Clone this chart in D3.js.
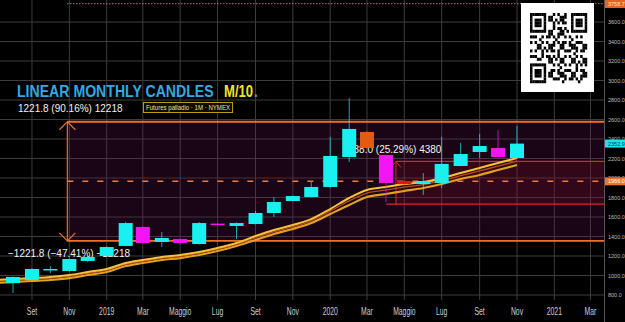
<!DOCTYPE html>
<head>
  <meta charset="utf-8">
  <script src="https://d3js.org/d3.v7.min.js"></script>
  <style>
    body { margin:0; background:#000; }
    svg { display:block; font-family:"Liberation Sans", Arial, sans-serif; }
  </style>
</head>
<body>
  <div id="chart"></div>
  <script>
    // monthly palladium candles, Aug 2018 .. Nov 2020
    const months = ['2018-08','2018-09','2018-10','2018-11','2018-12','2019-01','2019-02','2019-03','2019-04','2019-05',
      '2019-06','2019-07','2019-08','2019-09','2019-10','2019-11','2019-12','2020-01','2020-02','2020-03',
      '2020-04','2020-05','2020-06','2020-07','2020-08','2020-09','2020-10','2020-11'];
    const open  = [923, 954, 1060, 1046, 1149, 1200, 1303, 1497, 1344, 1374, 1323, 1532, 1508, 1528, 1641, 1764, 1805, 1908, 2215, 2472, 2236, 1969, 1938, 1949, 2123, 2267, 2308, 2205];
    const close = [985, 1067, 1067, 1169, 1190, 1292, 1538, 1333, 1385, 1333, 1538, 1524, 1538, 1641, 1754, 1815, 1908, 2226, 2503, 2308, 1949, 1938, 1969, 2144, 2246, 2328, 2215, 2352.9];
    const high  = [990, 1075, 1097, 1175, 1200, 1300, 1550, 1505, 1446, 1380, 1549, 1535, 1545, 1662, 1805, 1820, 1959, 2421, 2821, 2480, 2240, 1975, 2051, 2421, 2359, 2451, 2492, 2533];
    const low   = [820, 950, 1026, 1040, 1140, 1195, 1300, 1325, 1292, 1320, 1318, 1520, 1374, 1525, 1600, 1760, 1800, 1900, 2164, 2300, 1754, 1930, 1826, 1897, 2120, 2205, 2210, 2200];
    const flagged = { '2020-03': 'orange', '2020-05': 'red' };

    // moving averages, Jul 2018 .. Nov 2020
    const maMonths = ['2018-07'].concat(months);
    const maUpper = [954, 964, 974, 985, 1005, 1036, 1067, 1128, 1159, 1190, 1210, 1241, 1282, 1333, 1405, 1467, 1518, 1579, 1682, 1795, 1877, 1908, 1938, 1959, 2000, 2051, 2103, 2154, 2205];
    const maMid   = [940, 950, 960, 970, 990, 1021, 1052, 1113, 1144, 1175, 1195, 1226, 1267, 1318, 1386, 1447, 1498, 1560, 1660, 1765, 1845, 1876, 1906, 1932, 1972, 2024, 2072, 2122, 2172];
    const maLower = [923, 933, 944, 954, 974, 1005, 1036, 1097, 1128, 1159, 1179, 1210, 1251, 1303, 1364, 1426, 1477, 1538, 1631, 1723, 1805, 1836, 1867, 1897, 1938, 1990, 2031, 2082, 2133];

    const yTicks = d3.range(800, 3601, 200);
    const xTickDates = ['2018-09','2018-11','2019-01','2019-03','2019-05','2019-07','2019-09','2019-11',
      '2020-01','2020-03','2020-05','2020-07','2020-09','2020-11','2021-01','2021-03'];
    const xTickLabels = ['Set','Nov','2019','Mar','Maggio','Lug','Set','Nov','2020','Mar','Maggio','Lug','Set','Nov','2021','Mar'];

    // price range tools
    const rangeLow = 1355.1, rangeHigh = 2576.9, rangeMid = 1966.0;
    const rangeStart = '2018-11';
    const range2Low = 1732, range2High = 2170, range2Start = '2020-04';
    const topLevel = 3758.7;

    const W = 625, H = 322, plotRight = 604, plotBottom = 300;
    const parse = d3.timeParse('%Y-%m');

    const x = d3.scaleTime()
      .domain([parse('2018-08'), parse('2020-11')])
      .range([13, 517]);
    const y = d3.scaleLinear().domain([800, 3600]).range([295, 22]);

    const svg = d3.select('#chart').append('svg')
      .attr('width', W).attr('height', H);
    svg.append('rect').attr('width', W).attr('height', H).attr('fill', '#000');

    svg.append('clipPath').attr('id', 'plot')
      .append('rect').attr('width', plotRight).attr('height', plotBottom);

    const plot = svg.append('g').attr('clip-path', 'url(#plot)');

    // grid
    plot.append('g').selectAll('line').data(yTicks).join('line')
      .attr('x1', 0).attr('x2', plotRight)
      .attr('y1', d => y(d)).attr('y2', d => y(d))
      .attr('stroke', '#3d3d3d').attr('stroke-width', 1);
    plot.append('g').selectAll('line').data(xTickDates).join('line')
      .attr('x1', d => x(parse(d))).attr('x2', d => x(parse(d)))
      .attr('y1', 0).attr('y2', plotBottom)
      .attr('stroke', '#3d3d3d').attr('stroke-width', 1);

    // big range box
    const rx = x(parse(rangeStart)) - 2;
    plot.append('rect')
      .attr('x', rx).attr('y', y(rangeHigh))
      .attr('width', plotRight - rx).attr('height', y(rangeLow) - y(rangeHigh))
      .attr('fill', 'rgba(110,20,90,0.24)');
    // second range box
    const r2x = x(parse(range2Start)) + 10;
    plot.append('rect')
      .attr('x', r2x).attr('y', y(range2High))
      .attr('width', plotRight - r2x).attr('height', y(range2Low) - y(range2High))
      .attr('fill', 'rgba(140,20,40,0.22)');

    [rangeHigh, rangeLow].forEach(v => {
      plot.append('line').attr('x1', rx).attr('x2', plotRight)
        .attr('y1', y(v)).attr('y2', y(v))
        .attr('stroke', '#f0702a').attr('stroke-width', 1.8);
    });
    plot.append('line').attr('x1', rx).attr('x2', plotRight)
      .attr('y1', y(rangeMid)).attr('y2', y(rangeMid))
      .attr('stroke', '#f07838').attr('stroke-width', 1.6)
      .attr('stroke-dasharray', '6,9');
    // double arrow
    plot.append('line').attr('x1', rx).attr('x2', rx)
      .attr('y1', y(rangeHigh)).attr('y2', y(rangeLow))
      .attr('stroke', '#e8702a').attr('stroke-width', 1.2);
    plot.append('path')
      .attr('d', `M${rx - 8},${y(rangeHigh) + 8}L${rx},${y(rangeHigh)}L${rx + 8},${y(rangeHigh) + 8}`
        + `M${rx - 8},${y(rangeLow) - 8}L${rx},${y(rangeLow)}L${rx + 8},${y(rangeLow) - 8}`)
      .attr('fill', 'none').attr('stroke', '#e8702a').attr('stroke-width', 1.2);

    plot.append('line').attr('x1', r2x).attr('x2', plotRight)
      .attr('y1', y(range2High)).attr('y2', y(range2High))
      .attr('stroke', '#e0242a').attr('stroke-width', 1.2);
    plot.append('line').attr('x1', r2x - 10).attr('x2', plotRight)
      .attr('y1', y(range2Low)).attr('y2', y(range2Low))
      .attr('stroke', '#e0242a').attr('stroke-width', 1.2);
    plot.append('line').attr('x1', r2x).attr('x2', r2x)
      .attr('y1', y(range2High)).attr('y2', y(range2Low))
      .attr('stroke', '#e0242a').attr('stroke-width', 1);
    plot.append('path')
      .attr('d', `M${r2x - 5},${y(range2High) + 6}L${r2x},${y(range2High)}L${r2x + 5},${y(range2High) + 6}`)
      .attr('fill', 'none').attr('stroke', '#c83030').attr('stroke-width', 1);

    // top dotted level
    plot.append('line').attr('x1', rx).attr('x2', plotRight)
      .attr('y1', y(topLevel) - 3).attr('y2', y(topLevel) - 3)
      .attr('stroke', '#d89080').attr('stroke-width', 1.3)
      .attr('stroke-dasharray', '1,2');

    // range labels (drawn under the candles)
    const lbl = (tx, ty, s) => plot.append('text').attr('x', tx).attr('y', ty)
      .attr('fill', '#f2f2f2').attr('font-size', 10).text(s);
    lbl(18, 112, '1221.8 (90.16%) 12218');
    lbl(8, 257, '\u22121221.8 (\u221247.41%) \u221212218');
    lbl(348, 153, '438.0 (25.29%) 4380');

    // moving averages
    const line = d3.line().x(d => x(parse(d[0]))).y(d => y(d[1])).curve(d3.curveMonotoneX);
    [[maLower, '#e2a21e', 2.2], [maMid, '#b84a1c', 1.3], [maUpper, '#f7c23a', 2]].forEach(([vals, col, w]) => {
      plot.append('path')
        .attr('d', line(maMonths.map((m, i) => [m, vals[i]])))
        .attr('fill', 'none').attr('stroke', col).attr('stroke-width', w);
    });

    // candles
    const candles = months.map((m, i) => ({ m, o: open[i], c: close[i], h: high[i], l: low[i] }));
    const colour = d => flagged[d.m] === 'orange' ? '#e45a12'
      : flagged[d.m] === 'red' ? '#e81414'
      : d.c >= d.o ? '#19f0f0' : '#f414f4';
    const bw = 14;
    const g = plot.append('g').selectAll('g').data(candles).join('g');
    g.append('line')
      .attr('x1', d => x(parse(d.m))).attr('x2', d => x(parse(d.m)))
      .attr('y1', d => y(d.h)).attr('y2', d => y(d.l))
      .attr('stroke', colour).attr('stroke-opacity', 0.7).attr('stroke-width', 1);
    g.append('rect')
      .attr('x', d => x(parse(d.m)) - bw / 2)
      .attr('y', d => y(Math.max(d.o, d.c)))
      .attr('width', bw)
      .attr('height', d => Math.max(1.5, Math.abs(y(d.o) - y(d.c))))
      .attr('fill', colour);

    // right axis
    svg.append('line').attr('x1', plotRight + 0.5).attr('x2', plotRight + 0.5)
      .attr('y1', 0).attr('y2', H).attr('stroke', '#555');
    svg.append('g').selectAll('text').data(yTicks).join('text')
      .attr('x', plotRight + 4).attr('y', d => y(d) + 2)
      .attr('fill', '#bdbdbd').attr('font-size', 5.5)
      .text(d => d3.format('.1f')(d));

    const badge = (v, by, bg, fg) => {
      svg.append('rect').attr('x', plotRight + 1).attr('y', by - 4)
        .attr('width', W - plotRight - 1).attr('height', 8).attr('fill', bg);
      svg.append('text').attr('x', plotRight + 4).attr('y', by + 2)
        .attr('fill', fg).attr('font-size', 5.5).text(d3.format('.1f')(v));
    };
    badge(topLevel, 4, '#e8641e', '#ffe6cc');
    badge(close[close.length - 1], y(close[close.length - 1]), '#16e6f0', '#0b3a44');
    badge(rangeMid, y(rangeMid), '#f07424', '#ffffff');

    // bottom axis
    svg.append('g').selectAll('text').data(xTickDates).join('text')
      .attr('transform', (d) => `translate(${x(parse(d))},315) scale(0.62,1)`)
      .attr('text-anchor', 'middle')
      .attr('fill', '#cfcfcf').attr('font-size', 11)
      .text((d, i) => xTickLabels[i]);

    // title, condensed horizontally
    svg.append('text').attr('transform', 'translate(17,97) scale(0.83,1)')
      .attr('font-size', 17).attr('font-weight', 'bold').attr('fill', '#34a8e2')
      .text('LINEAR MONTHLY CANDLES');
    svg.append('text').attr('transform', 'translate(224,97) scale(0.77,1)')
      .attr('font-size', 17).attr('font-weight', 'bold').attr('fill', '#f4e42c')
      .text('M/10');
    svg.append('text').attr('transform', 'translate(254,97) scale(0.8,1)')
      .attr('font-size', 17).attr('font-weight', 'bold').attr('fill', '#34a8e2')
      .text('.');

    svg.append('rect').attr('x', 143.5).attr('y', 102.5).attr('width', 89).attr('height', 10)
      .attr('fill', '#0d0b00').attr('stroke', '#b89a14').attr('stroke-width', 1);
    svg.append('text').attr('x', 146).attr('y', 110)
      .attr('font-size', 7).attr('fill', '#ece29a')
      .attr('textLength', 84).attr('lengthAdjust', 'spacingAndGlyphs')
      .text('Futures palladio \u00b7 1M \u00b7 NYMEX');

    // QR code block
    svg.append('rect').attr('x', 521).attr('y', 3).attr('width', 73).attr('height', 89).attr('fill', '#fff');
    const n = 25, qx = 530, qy = 13, mw = 57 / n, mh = 70 / n;
    const finders = [[0, 0], [0, n - 7], [n - 7, 0]];
    function qrOn(r, c) {
      for (const [r0, c0] of finders) {
        const dr = r - r0, dc = c - c0;
        if (dr >= -1 && dr <= 7 && dc >= -1 && dc <= 7) {
          if (dr < 0 || dr > 6 || dc < 0 || dc > 6) return false;
          return Math.max(Math.abs(dr - 3), Math.abs(dc - 3)) !== 2;
        }
      }
      return ((r * 7 + c * 13 + r * c * 3) % 5) < 2 || ((r + c * 2) % 7 === 3);
    }
    const cells = [];
    for (let r = 0; r < n; r++) for (let c = 0; c < n; c++) if (qrOn(r, c)) cells.push([r, c]);
    svg.append('g').selectAll('rect').data(cells).join('rect')
      .attr('x', d => qx + d[1] * mw).attr('y', d => qy + d[0] * mh)
      .attr('width', mw + 0.2).attr('height', mh + 0.2).attr('fill', '#000');
  </script>
</body>
